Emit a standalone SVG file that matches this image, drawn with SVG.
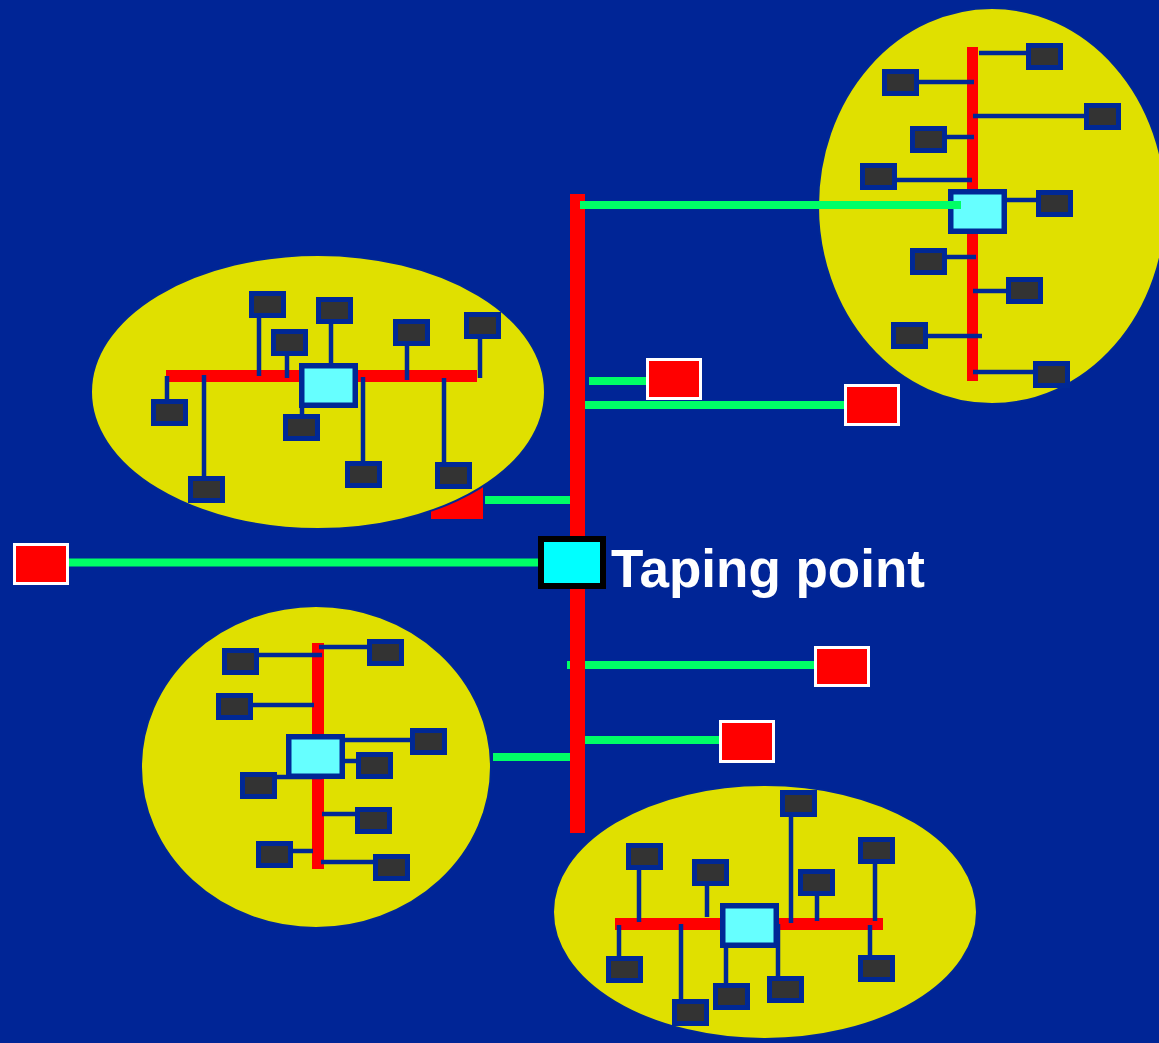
<svg xmlns="http://www.w3.org/2000/svg" width="1159" height="1043" viewBox="0 0 1159 1043">
  <style>
    .ell { fill: #E0E000; stroke: #002896; stroke-width: 2; }
    .bus { fill: #FF0000; }
    .dev { fill: #333333; stroke: #002896; stroke-width: 5; }
    .hub { fill: #66FFFF; stroke: #002896; stroke-width: 5.5; }
    .wire { stroke: #002896; stroke-width: 4.5; fill: none; }
    .link { stroke: #00FF66; stroke-width: 8; fill: none; }
    .term { fill: #FF0000; stroke: #FFFFFF; stroke-width: 3; }
    .label { font-family: "Liberation Sans", Arial, sans-serif; font-weight: bold; font-size: 53px; fill: #FFFFFF; }
  </style>

  <!-- backdrop -->
  <rect x="0" y="0" width="1159" height="1043" fill="#002596"/>

  <!-- terminal partly hidden behind the left segment -->
  <g id="terminal-hidden">
    <rect class="bus" x="431" y="470" width="52" height="49"/>
  </g>

  <!-- segment: top right (vertical bus) -->
  <g id="segment-top-right">
    <ellipse class="ell" cx="992" cy="206" rx="174" ry="198"/>
    <rect class="bus" x="967" y="47" width="11" height="334"/>
    <line class="wire" x1="979" y1="53" x2="1026" y2="53"/>
    <line class="wire" x1="919" y1="82" x2="974" y2="82"/>
    <line class="wire" x1="973" y1="116" x2="1084" y2="116"/>
    <line class="wire" x1="947" y1="137" x2="974" y2="137"/>
    <line class="wire" x1="897" y1="180" x2="972" y2="180"/>
    <line class="wire" x1="1006" y1="200" x2="1036" y2="200"/>
    <line class="wire" x1="947" y1="257" x2="976" y2="257"/>
    <line class="wire" x1="973" y1="291" x2="1006" y2="291"/>
    <line class="wire" x1="928" y1="336" x2="982" y2="336"/>
    <line class="wire" x1="973" y1="372" x2="1033" y2="372"/>
    <rect class="dev" x="1028.5" y="45.5" width="32" height="22"/>
    <rect class="dev" x="884.5" y="71.5" width="32" height="22"/>
    <rect class="dev" x="1086.5" y="105.5" width="32" height="22"/>
    <rect class="dev" x="912.5" y="128.5" width="32" height="22"/>
    <rect class="dev" x="862.5" y="165.5" width="32" height="22"/>
    <rect class="dev" x="1038.5" y="192.5" width="32" height="22"/>
    <rect class="dev" x="912.5" y="250.5" width="32" height="22"/>
    <rect class="dev" x="1008.5" y="279.5" width="32" height="22"/>
    <rect class="dev" x="893.5" y="324.5" width="32" height="22"/>
    <rect class="dev" x="1035.5" y="363.5" width="32" height="22"/>
    <rect class="hub" x="950.75" y="191.75" width="53.5" height="39.5"/>
  </g>

  <!-- segment: left (horizontal bus) -->
  <g id="segment-left">
    <ellipse class="ell" cx="318" cy="392" rx="227" ry="137"/>
    <rect class="bus" x="166" y="370" width="311" height="12"/>
    <line class="wire" x1="259" y1="318" x2="259" y2="376"/>
    <line class="wire" x1="287" y1="356" x2="287" y2="378"/>
    <line class="wire" x1="331" y1="324" x2="331" y2="363"/>
    <line class="wire" x1="407" y1="346" x2="407" y2="380"/>
    <line class="wire" x1="480" y1="339" x2="480" y2="378"/>
    <line class="wire" x1="167" y1="376" x2="167" y2="399"/>
    <line class="wire" x1="204" y1="375" x2="204" y2="476"/>
    <line class="wire" x1="302" y1="407" x2="302" y2="414"/>
    <line class="wire" x1="363" y1="377" x2="363" y2="461"/>
    <line class="wire" x1="444" y1="378" x2="444" y2="462"/>
    <rect class="dev" x="251.5" y="293.5" width="32" height="22"/>
    <rect class="dev" x="273.5" y="331.5" width="32" height="22"/>
    <rect class="dev" x="318.5" y="299.5" width="32" height="22"/>
    <rect class="dev" x="395.5" y="321.5" width="32" height="22"/>
    <rect class="dev" x="466.5" y="314.5" width="32" height="22"/>
    <rect class="dev" x="153.5" y="401.5" width="32" height="22"/>
    <rect class="dev" x="190.5" y="478.5" width="32" height="22"/>
    <rect class="dev" x="285.5" y="416.5" width="32" height="22"/>
    <rect class="dev" x="347.5" y="463.5" width="32" height="22"/>
    <rect class="dev" x="437.5" y="464.5" width="32" height="22"/>
    <rect class="hub" x="301.75" y="365.75" width="53.5" height="39.5"/>
  </g>

  <!-- segment: bottom left (vertical bus) -->
  <g id="segment-bottom-left">
    <ellipse class="ell" cx="316" cy="767" rx="175" ry="161"/>
    <rect class="bus" x="312" y="643" width="12" height="226"/>
    <line class="wire" x1="259" y1="655" x2="322" y2="655"/>
    <line class="wire" x1="319" y1="647" x2="367" y2="647"/>
    <line class="wire" x1="253" y1="705" x2="314" y2="705"/>
    <line class="wire" x1="345" y1="740" x2="410" y2="740"/>
    <line class="wire" x1="345" y1="761" x2="356" y2="761"/>
    <line class="wire" x1="277" y1="777" x2="322" y2="777"/>
    <line class="wire" x1="322" y1="814" x2="355" y2="814"/>
    <line class="wire" x1="293" y1="851" x2="313" y2="851"/>
    <line class="wire" x1="321" y1="862" x2="373" y2="862"/>
    <rect class="dev" x="224.5" y="650.5" width="32" height="22"/>
    <rect class="dev" x="369.5" y="641.5" width="32" height="22"/>
    <rect class="dev" x="218.5" y="695.5" width="32" height="22"/>
    <rect class="dev" x="412.5" y="730.5" width="32" height="22"/>
    <rect class="dev" x="358.5" y="754.5" width="32" height="22"/>
    <rect class="dev" x="242.5" y="774.5" width="32" height="22"/>
    <rect class="dev" x="357.5" y="809.5" width="32" height="22"/>
    <rect class="dev" x="258.5" y="843.5" width="32" height="22"/>
    <rect class="dev" x="375.5" y="856.5" width="32" height="22"/>
    <rect class="hub" x="288.75" y="736.75" width="53.5" height="39.5"/>
  </g>

  <!-- segment: bottom (horizontal bus) -->
  <g id="segment-bottom">
    <ellipse class="ell" cx="765" cy="912" rx="212" ry="127"/>
    <rect class="bus" x="615" y="918" width="268" height="12"/>
    <line class="wire" x1="639" y1="869" x2="639" y2="922"/>
    <line class="wire" x1="707" y1="886" x2="707" y2="917"/>
    <line class="wire" x1="791" y1="816" x2="791" y2="923"/>
    <line class="wire" x1="817" y1="896" x2="817" y2="921"/>
    <line class="wire" x1="875" y1="863" x2="875" y2="921"/>
    <line class="wire" x1="619" y1="925" x2="619" y2="956"/>
    <line class="wire" x1="681" y1="924" x2="681" y2="999"/>
    <line class="wire" x1="726" y1="948" x2="726" y2="983"/>
    <line class="wire" x1="778" y1="924" x2="778" y2="976"/>
    <line class="wire" x1="870" y1="925" x2="870" y2="955"/>
    <rect class="dev" x="628.5" y="845.5" width="32" height="22"/>
    <rect class="dev" x="694.5" y="861.5" width="32" height="22"/>
    <rect class="dev" x="782.5" y="792.5" width="32" height="22"/>
    <rect class="dev" x="800.5" y="871.5" width="32" height="22"/>
    <rect class="dev" x="860.5" y="839.5" width="32" height="22"/>
    <rect class="dev" x="608.5" y="958.5" width="32" height="22"/>
    <rect class="dev" x="674.5" y="1001.5" width="32" height="22"/>
    <rect class="dev" x="715.5" y="985.5" width="32" height="22"/>
    <rect class="dev" x="769.5" y="978.5" width="32" height="22"/>
    <rect class="dev" x="860.5" y="957.5" width="32" height="22"/>
    <rect class="hub" x="722.75" y="905.75" width="53.5" height="39.5"/>
  </g>

  <!-- backbone and its links -->
  <g id="connectors">
    <line class="link" x1="567" y1="665" x2="815" y2="665"/>
    <rect class="bus" x="570" y="194" width="15" height="639"/>
    <line class="link" x1="589" y1="381" x2="646" y2="381"/>
    <line class="link" x1="585" y1="405" x2="844" y2="405"/>
    <line class="link" x1="485" y1="500" x2="570" y2="500"/>
    <line class="link" x1="69" y1="562.5" x2="540" y2="562.5"/>
    <line class="link" x1="585" y1="740" x2="719" y2="740"/>
    <line class="link" x1="493" y1="757" x2="570" y2="757"/>
    <line class="link" x1="580" y1="205" x2="961" y2="205"/>
  </g>

  <!-- single stations -->
  <g id="terminal-1"><rect class="term" x="647.5" y="359.5" width="53" height="39"/></g>
  <g id="terminal-2"><rect class="term" x="845.5" y="385.5" width="53" height="39"/></g>
  <g id="terminal-3"><rect class="term" x="14.5" y="544.5" width="53" height="39"/></g>
  <g id="terminal-4"><rect class="term" x="815.5" y="647.5" width="53" height="38"/></g>
  <g id="terminal-5"><rect class="term" x="720.5" y="721.5" width="53" height="40"/></g>

  <!-- tap -->
  <g id="taping-point">
    <rect x="541" y="539" width="62" height="47" fill="#00FFFF" stroke="#000000" stroke-width="6"/>
    <text class="label" x="611" y="587">Taping point</text>
  </g>
</svg>
